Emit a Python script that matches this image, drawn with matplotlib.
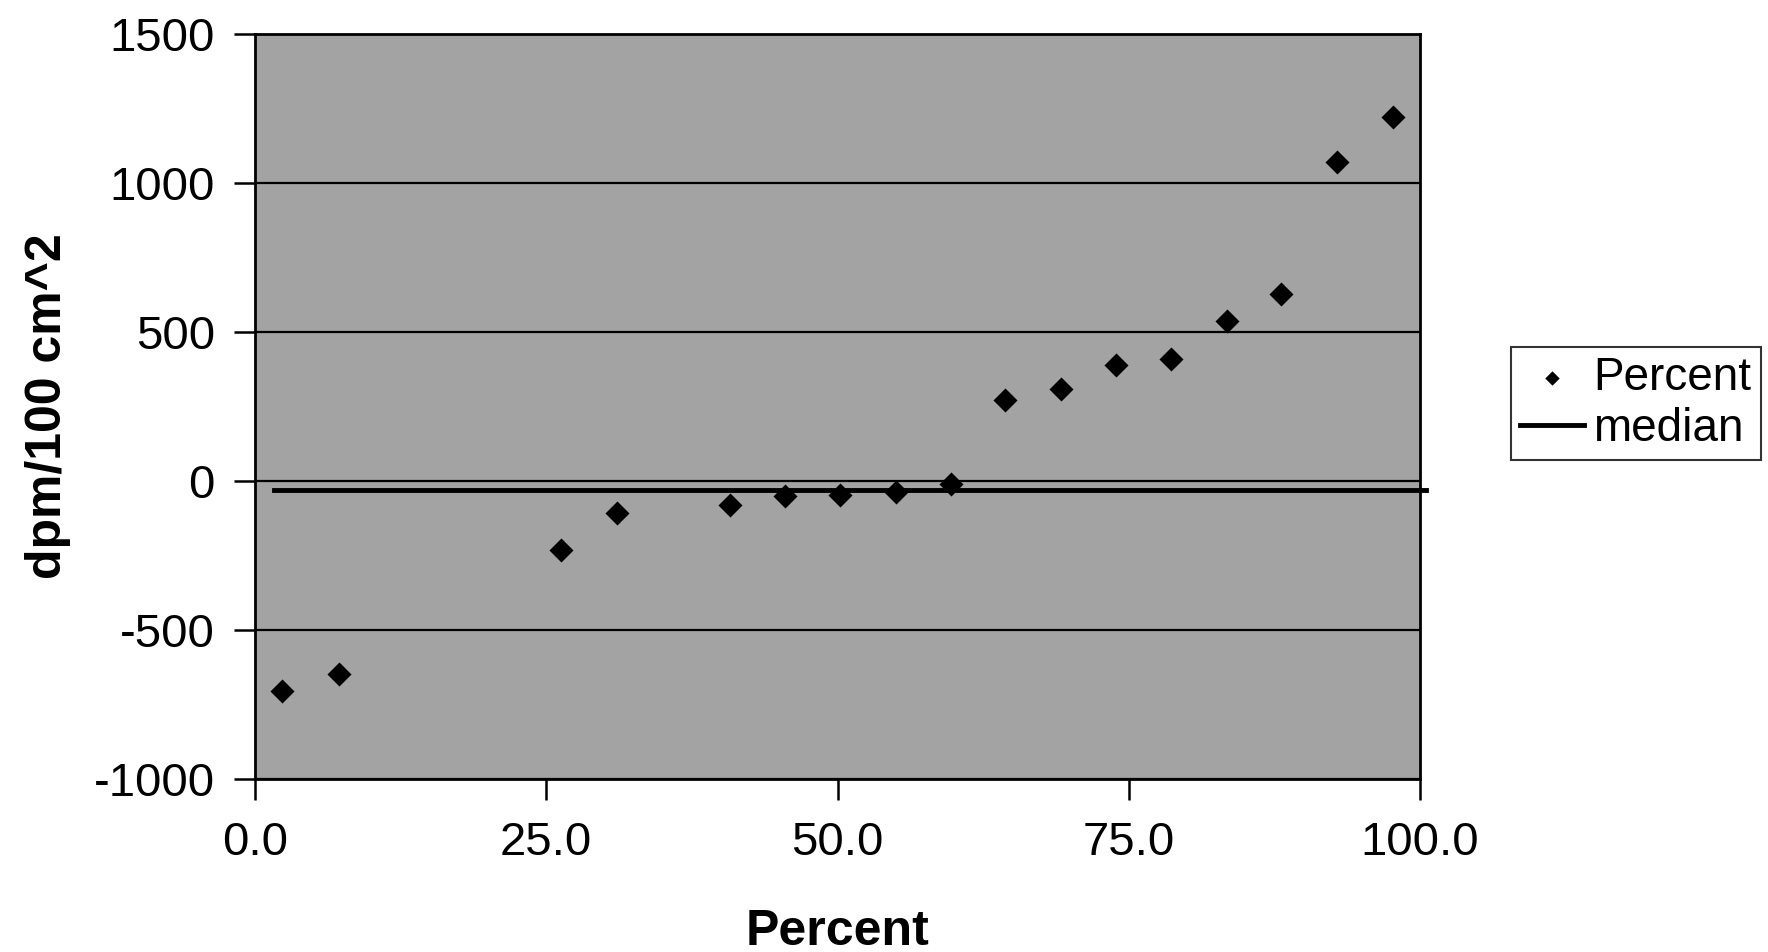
"""Scatter of dpm/100 cm^2 against percentile with median line."""
import matplotlib
matplotlib.use('Agg')
import matplotlib.pyplot as plt
import numpy as np

# values
percent = [2.3, 7.2, 26.3, 31.1, 40.8, 45.5, 50.2, 55.0, 59.7,
           64.4, 69.2, 73.9, 78.6, 83.4, 88.1, 92.9, 97.7]
dpm = [-706, -649, -230, -108, -82, -51, -46, -37, -10,
       273, 309, 389, 408, 538, 626, 1069, 1221]
median_value = -29
median_span = [1.6, 100.5]

xticks = [0, 25, 50, 75, 100]
yticks = [-1000, -500, 0, 500, 1000, 1500]

plt.rcParams['font.family'] = ['Liberation Sans', 'DejaVu Sans']
plt.rcParams['axes.unicode_minus'] = False

fig = plt.figure(figsize=(17.68, 9.52), dpi=100)
ax = fig.add_axes([255 / 1768, 1 - 779 / 952, (1420 - 255) / 1768, (779 - 34) / 952])
ax.set_facecolor('#a3a3a3')

for y in yticks:
    ax.axhline(y, color='black', linewidth=1.6, zorder=1)

ax.scatter(percent, dpm, marker='D', s=150, color='black', zorder=3,
           label='Percent', linewidths=0)
ax.plot(median_span, [median_value, median_value], color='black',
        linewidth=3.5, zorder=2, clip_on=False, label='median')

ax.set_xlim(0, 100)
ax.set_ylim(-1000, 1500)
ax.set_xticks(xticks)
ax.set_xticklabels([f'{v:.1f}' for v in xticks])
ax.set_yticks(yticks)
ax.tick_params(axis='both', direction='out', length=15, width=1.8,
               labelsize=34, color='black')
ax.tick_params(axis='x', pad=15)
ax.tick_params(axis='y', pad=14)
for s in ax.spines.values():
    s.set_linewidth(2)

ax.set_xlabel('Percent', fontsize=36, fontweight='bold', labelpad=32)
ax.set_ylabel('dpm/100 cm^2', fontsize=36, fontweight='bold', labelpad=16)

leg = fig.legend(loc='upper left', bbox_to_anchor=(1511 / 1768, 1 - 347 / 952),
                 fontsize=33, frameon=True, fancybox=False, handlelength=1.4,
                 handletextpad=0.2, borderpad=0.2, labelspacing=0.15,
                 borderaxespad=0, markerscale=0.6)
leg.get_frame().set_edgecolor('black')
leg.get_frame().set_linewidth(1.5)

fig.savefig('out.png', dpi=100)
